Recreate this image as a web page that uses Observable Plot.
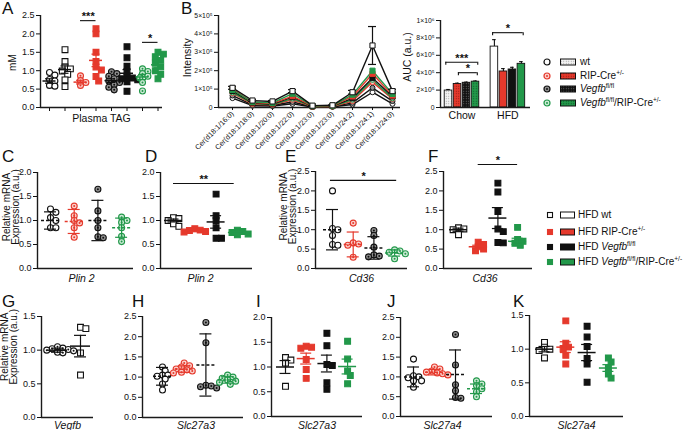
<!DOCTYPE html>
<html><head><meta charset="utf-8">
<script src="https://cdn.jsdelivr.net/npm/d3@7"></script>
<script src="https://cdn.jsdelivr.net/npm/@observablehq/plot@0.6"></script>
<style>
body{margin:0;background:#fff;}
#fig{position:relative;width:685px;height:430px;overflow:hidden;font-family:"Liberation Sans",Arial,sans-serif;color:#111;background:#fff;}
.lt{position:absolute;font-size:17px;line-height:17px;}
.leg{position:absolute;font-size:10px;line-height:12px;white-space:nowrap;}
.leg sup{font-size:6.5px;vertical-align:4px;line-height:0;}
</style></head><body>
<svg width="0" height="0" style="position:absolute"><defs>
<pattern id="pw" width="2.5" height="2.5" patternUnits="userSpaceOnUse"><rect width="2.5" height="2.5" fill="#f4f4f4"/><circle cx="1.25" cy="1.25" r="0.55" fill="#9a9a9a"/></pattern>
<pattern id="pr" width="2.5" height="2.5" patternUnits="userSpaceOnUse"><rect width="2.5" height="2.5" fill="#e5392c"/><circle cx="1.25" cy="1.25" r="0.55" fill="#8a1a12"/></pattern>
<pattern id="pk" width="2.5" height="2.5" patternUnits="userSpaceOnUse"><rect width="2.5" height="2.5" fill="#111"/><circle cx="1.25" cy="1.25" r="0.55" fill="#777"/></pattern>
<pattern id="pg" width="2.5" height="2.5" patternUnits="userSpaceOnUse"><rect width="2.5" height="2.5" fill="#22984a"/><circle cx="1.25" cy="1.25" r="0.55" fill="#0b5224"/></pattern>
</defs></svg>
<div id="fig"></div>
<script>
// ---------------- DATA ----------------
// Panel A: plasma TAG (mM)
const tagGroups = ["Chow wt","HFD wt","Chow RIP-Cre","HFD RIP-Cre","Chow Vegfb","HFD Vegfb","Chow Vegfb/RIP","HFD Vegfb/RIP"];
const tagValues = [
  [0.95, 0.88, 0.76, 0.72, 0.6, 0.58],
  [1.57, 1.25, 1.1, 1.05, 0.99, 0.9, 0.75, 0.57],
  [0.86, 0.73, 0.68, 0.6],
  [2.14, 2.0, 1.5, 1.25, 1.1, 1.02, 0.84, 0.72],
  [0.97, 0.92, 0.85, 0.78, 0.72, 0.68, 0.62, 0.55, 0.48],
  [1.65, 1.35, 1.12, 0.98, 0.85, 0.8, 0.78, 0.75, 0.7, 0.44],
  [1.05, 0.98, 0.92, 0.85, 0.8, 0.68, 0.45],
  [1.5, 1.45, 1.38, 1.28, 1.2, 1.1, 1.0, 0.9, 0.78]
];
const tagMean = [0.72, 1.03, 0.69, 1.28, 0.73, 0.93, 0.83, 1.16];
const tagSem  = [0.06, 0.1, 0.05, 0.17, 0.05, 0.1, 0.07, 0.08];

// Panel B: ceramide intensity (x10^5)
const cerLabels = ["Cer(d18:1/16:0)","Cer(d18:1/18:0)","Cer(d18:1/20:0)","Cer(d18:1/22:0)","Cer(d18:1/23:0)","Cer(d18:1/23:0)","Cer(d18:1/24:2)","Cer(d18:1/24:1)","Cer(d18:1/24:0)"];
const cerChowWt  = [0.51, 0.10, 0.08, 0.20, 0.03, 0.04, 0.16, 0.83, 0.20];
const cerChowVeg = [0.65, 0.14, 0.12, 0.30, 0.04, 0.05, 0.25, 1.07, 0.35];
const cerChowRip = [0.78, 0.18, 0.14, 0.42, 0.05, 0.05, 0.35, 1.38, 0.47];
const cerChowDko = [0.82, 0.22, 0.16, 0.48, 0.05, 0.06, 0.42, 1.50, 0.50];
const cerHfdVeg  = [0.90, 0.25, 0.18, 0.56, 0.06, 0.08, 0.50, 1.60, 0.60];
const cerHfdRip  = [1.00, 0.28, 0.22, 0.62, 0.07, 0.09, 0.60, 1.83, 0.65];
const cerHfdDko  = [0.95, 0.30, 0.25, 0.75, 0.08, 0.10, 0.70, 2.00, 0.74];
const cerHfdWt   = [1.07, 0.38, 0.33, 0.89, 0.10, 0.12, 0.83, 3.37, 0.89];
const cerHfdWtErr= [0.08, 0.05, 0.05, 0.08, 0.02, 0.02, 0.10, 1.03, 0.10];

// Panel B inset: AUC (x10^5)
const aucDiets = ["Chow","HFD"];
const aucChow = [1.95, 2.70, 2.84, 2.97];
const aucChowErr = [0.12, 0.10, 0.08, 0.08];
const aucHfd = [7.0, 4.14, 4.37, 5.02];
const aucHfdErr = [0.8, 0.33, 0.25, 0.25];

// Panels C-F (groups: wt, RIP-Cre, Vegfb, Vegfb/RIP-Cre)
const plin2C = [[1.24,1.17,1.06,1.0,0.85,0.85],[1.3,1.1,1.0,0.95,0.85,0.65],[1.65,1.2,1.0,0.85,0.66,0.64],[1.07,1.0,0.96,0.85,0.67,0.56]];
const plin2CMean = [1.0, 0.98, 1.0, 0.85];
const plin2CSd   = [0.18, 0.25, 0.42, 0.2];
const plin2D = [[1.06,1.04,1.0,0.93,0.88],[0.83,0.8,0.79,0.77,0.76],[1.55,1.1,1.0,0.85,0.63,0.63],[0.8,0.77,0.75,0.72,0.7]];
const plin2DMean = [1.0, 0.79, 0.97, 0.75];
const plin2DSem  = [0.03, 0.02, 0.13, 0.02];
const cd36E = [[2.0,1.03,1.0,0.85,0.62,0.6],[1.17,0.66,0.63,0.6,0.29],[0.98,0.85,0.55,0.35,0.32,0.3],[0.48,0.45,0.42,0.38,0.25]];
const cd36EMean = [1.0, 0.62, 0.53, 0.4];
const cd36ESd   = [0.52, 0.32, 0.29, 0.08];
const cd36F = [[1.05,1.02,1.0,0.87],[0.68,0.62,0.56,0.5,0.46],[2.2,1.97,1.47,1.02,0.95,0.67,0.66],[1.06,0.75,0.7,0.65,0.6]];
const cd36FMean = [1.0, 0.56, 1.3, 0.7];
const cd36FSem  = [0.04, 0.04, 0.27, 0.08];

// Panels G-K
const vegfbG = [[1.05,1.03,1.02,1.01,1.0,0.99,0.97,0.96],[1.34,1.32,0.96,0.63]];
const vegfbGMean = [1.0, 1.06];
const vegfbGErr  = [0.03, 0.16];
const slc3H = [[1.25,1.15,1.05,1.05,1.02,0.95,0.83,0.68],[1.35,1.28,1.25,1.2,1.18,1.15,1.12,1.1],[2.35,1.85,0.8,0.78,0.76,0.73],[1.05,1.0,0.97,0.93,0.9,0.87,0.82]];
const slc3HMean = [1.02, 1.2, 1.3, 0.93];
const slc3HSd   = [0.22, 0.08, 0.77, 0.08];
const slc3I = [[1.19,1.14,1.08,0.61],[1.42,1.4,1.38,1.15,0.95,0.77],[1.68,1.43,1.05,1.03,0.68,0.55],[1.52,1.16,0.92,0.83,0.66]];
const slc3IMean = [1.0, 1.17, 1.07, 1.01];
const slc3ISem  = [0.13, 0.11, 0.17, 0.15];
const slc4J = [[1.45,1.03,1.0,0.98,0.9,0.9,0.74],[1.25,1.2,1.15,1.12,1.1,1.08,1.05],[2.07,1.3,0.8,0.65,0.48,0.46],[0.9,0.82,0.78,0.7,0.62,0.5]];
const slc4JMean = [1.0, 1.12, 1.06, 0.7];
const slc4JSd   = [0.25, 0.07, 0.62, 0.12];
const slc4K = [[1.1,1.03,1.0,0.98,0.87],[1.42,1.09,1.03,1.01,0.91,0.78],[1.34,1.18,1.04,0.86,0.78,0.51],[0.87,0.81,0.72,0.63,0.57]];
const slc4KMean = [1.0, 1.03, 0.95, 0.72];
const slc4KSem  = [0.04, 0.08, 0.12, 0.05];

const ticks25 = [0, 0.5, 1, 1.5, 2, 2.5];
const ticks20 = [0, 0.5, 1, 1.5, 2];
const ticks15 = [0, 0.5, 1, 1.5];

// ---------------- STYLE ----------------
const FONT = "Liberation Sans, Arial, sans-serif";
const RED = "#e5392c", GREEN = "#22984a", BLACK = "#111111";
const STY = {
  wtC:  {symbol:"circle", r:3, fill:"white", stroke:BLACK, line:BLACK},
  ringC:{symbol:"circle", r:3, fill:"white", stroke:BLACK, dot:BLACK, line:BLACK},
  ripC: {symbol:"circle", r:3, fill:"#fbd0cb", stroke:RED, dot:RED, line:RED},
  vegC: {symbol:"circle", r:3, fill:"#8f8f8f", stroke:BLACK, dot:BLACK, line:BLACK},
  dkoC: {symbol:"circle", r:3, fill:"#cdebd6", stroke:GREEN, dot:GREEN, line:GREEN},
  wtS:  {symbol:"square", r:3.3, fill:"white", stroke:BLACK, line:BLACK},
  ripS: {symbol:"square", r:3.3, fill:RED, stroke:RED, line:RED},
  vegS: {symbol:"square", r:3.3, fill:BLACK, stroke:BLACK, line:BLACK},
  dkoS: {symbol:"square", r:3.3, fill:GREEN, stroke:GREEN, line:GREEN}
};
const CIRC = ["wtC","ripC","vegC","dkoC"], SQ = ["wtS","ripS","vegS","dkoS"];
const baseStyle = {fontFamily: FONT, fontSize: "9px", background: "transparent", overflow: "visible", maxWidth: "none", color: "#111"};
const AXC = "#1a1a1a";

const fig = document.getElementById("fig");
function put(node, left, top){ node.style.position = "absolute"; node.style.left = left + "px"; node.style.top = top + "px"; fig.appendChild(node); }
function frame(c){
  return {ml: c.ax - c.left, mr: c.left + c.width - c.xe, mt: c.ytop - c.top, mb: c.top + c.height - c.y0,
          xd: [(c.ax - c.g0) / c.gs, (c.xe - c.g0) / c.gs], ppu: (c.y0 - c.ytop) / c.ymax};
}
// rotated axis title, anchored at the y axis line, vertically at a data-space y
function yTitle(text, xd0, yMid, dx, fontSize){
  return Plot.text([text], {text: d => d, x: () => xd0, y: () => yMid, dx, rotate: -90, textAnchor: "middle", lineAnchor: "middle", fontSize, lineHeight: 0.95});
}
// simple deterministic beeswarm offsets (pixels), overlapping allowed a little
function swarm(vals, ppu, d){
  const idx = vals.map((v,i)=>i).sort((a,b)=>vals[b]-vals[a]);
  const placed = [], out = new Array(vals.length), s = d * 0.42, lim = (d * 0.72) ** 2;
  for (const i of idx){
    const y = vals[i] * ppu; let chosen = 0;
    for (let k = 0; k < 30; k++){
      const cand = k === 0 ? 0 : (k % 2 ? 1 : -1) * Math.ceil(k/2) * s;
      if (placed.every(p => (p.x-cand)**2 + (p.y-y)**2 >= lim)) { chosen = cand; break; }
    }
    placed.push({x: chosen, y}); out[i] = chosen;
  }
  return out;
}

function scatter(c){
  const f = frame(c);
  const marks = [
    Plot.ruleX([f.xd[0]], {stroke: AXC, strokeWidth: 1.4}),
    Plot.ruleY([0], {stroke: AXC, strokeWidth: 1.4})
  ];
  const mh = (c.meanHalf ?? 9) / c.gs, ch = (c.capHalf ?? 5.5) / c.gs;
  c.data.forEach((vals, g) => {
    const st = STY[c.styles[g]];
    const off = swarm(vals, f.ppu, 6.4);
    const pts = vals.map((v,i) => ({x: g + off[i]/c.gs, y: v}));
    marks.push(Plot.dot(pts, {x: "x", y: "y", symbol: st.symbol, r: st.r, fill: st.fill, stroke: st.stroke, strokeWidth: 1.1}));
    if (st.dot) marks.push(Plot.dot(pts, {x: "x", y: "y", r: 1, fill: st.dot}));
  });
  c.data.forEach((vals, g) => {
    const st = STY[c.styles[g]], m = c.mean[g], e = c.err[g];
    marks.push(Plot.ruleY([m], {x1: () => g - mh, x2: () => g + mh, stroke: st.line, strokeWidth: 1.5, strokeDasharray: c.dashed ? "3,2" : undefined}));
    marks.push(Plot.ruleX([g], {y1: () => m - e, y2: () => m + e, stroke: st.line, strokeWidth: 1.2}));
    marks.push(Plot.ruleY([m - e, m + e], {x1: () => g - ch, x2: () => g + ch, stroke: st.line, strokeWidth: 1.2}));
  });
  (c.sig || []).forEach(s => {
    marks.push(Plot.ruleY([s], {y: "y", x1: "a", x2: "b", stroke: "#111", strokeWidth: 1.1}));
    marks.push(Plot.text([s], {x: d => (d.a + d.b)/2, y: "y", text: "label", dy: -4, fontSize: 11, fontWeight: "bold"}));
  });
  if (c.ylabel) marks.push(yTitle(c.ylabel, f.xd[0], c.ylabelY, c.ylabelDx, 10));
  if (c.xlabel) marks.push(Plot.text([c.xlabel], {text: d => d, frameAnchor: "bottom", textAnchor: "middle", lineAnchor: "middle", dx: c.xlabelDx || 0, dy: c.xlabelDy ?? 10, fontSize: 10.5, fontStyle: c.xItalic === false ? "normal" : "italic"}));
  const svg = Plot.plot({
    width: c.width, height: c.height, marginLeft: f.ml, marginRight: f.mr, marginTop: f.mt, marginBottom: f.mb,
    x: c.xticks ? {domain: f.xd, ticks: c.xticks, tickFormat: () => "", tickSize: 4, label: null} : {domain: f.xd, axis: null},
    y: {domain: [0, c.ymax], ticks: c.yticks, tickFormat: d3.format(".1f"), tickSize: 4, tickPadding: 2, label: null},
    style: baseStyle, marks
  });
  put(svg, c.left, c.top);
}

// ---------------- PANEL A ----------------
scatter({left:0, top:0, width:168, height:125, ax:40, xe:162, y0:107, ytop:15, ymax:2.5, g0:49, gs:15.5,
  yticks: ticks25, xticks: d3.range(tagGroups.length),
  styles: ["wtC","wtS","ripC","ripS","vegC","vegS","dkoC","dkoS"],
  data: tagValues, mean: tagMean, err: tagSem, meanHalf: 6.5, capHalf: 4,
  ylabel: "mM", ylabelDx: -28, ylabelY: 1.22, xlabel: "Plasma TAG", xItalic: false, xlabelDy: 11,
  sig: [{a:2, b:3, y:2.36, label:"***"}, {a:6, b:7, y:1.77, label:"*"}]});

// ---------------- PANEL B ----------------
{
  const c = {left:165, top:0, width:240, height:160, ax:218, xe:400, y0:107, ytop:15, ymax:5, g0:232, gs:20};
  const f = frame(c);
  const series = [
    {v: cerChowWt,  st: "wtC"},  {v: cerChowVeg, st: "vegC"}, {v: cerChowRip, st: "ripC"}, {v: cerChowDko, st: "dkoC"},
    {v: cerHfdVeg,  st: "vegS"}, {v: cerHfdRip,  st: "ripS"}, {v: cerHfdDko,  st: "dkoS"}, {v: cerHfdWt, st: "wtS", err: cerHfdWtErr}
  ];
  const marks = [
    Plot.ruleX([f.xd[0]], {stroke: AXC, strokeWidth: 1.4}),
    Plot.ruleY([0], {stroke: AXC, strokeWidth: 1.4}),
    Plot.axisY({ticks: [0,1,2,3,4,5], tickFormat: d => d === 0 ? "0" : `${d}×10⁵`, tickSize: 4, tickPadding: 2, fontSize: 6.8, label: null}),
    Plot.axisX({ticks: d3.range(cerLabels.length), tickFormat: i => cerLabels[i], tickRotate: -45, tickSize: 3, tickPadding: 2, fontSize: 7.3, label: null}),
    yTitle("Intensity", f.xd[0], 2.7, -31, 10.5)
  ];
  for (const s of series){
    const st = STY[s.st];
    marks.push(Plot.line(s.v, {x: (d,i) => i, y: d => d, stroke: st.line, strokeWidth: 1.4}));
  }
  for (const s of series){
    const st = STY[s.st];
    if (s.err){
      const eb = s.v.map((d,i) => ({x: i, lo: d - s.err[i], hi: d + s.err[i]}));
      marks.push(Plot.ruleX(eb, {x: "x", y1: "lo", y2: "hi", stroke: st.line, strokeWidth: 1.2}));
      marks.push(Plot.ruleY(eb, {y: "hi", x1: d => d.x - 0.2, x2: d => d.x + 0.2, stroke: st.line, strokeWidth: 1.2}));
      marks.push(Plot.ruleY(eb, {y: "lo", x1: d => d.x - 0.2, x2: d => d.x + 0.2, stroke: st.line, strokeWidth: 1.2}));
    }
    marks.push(Plot.dot(s.v, {x: (d,i) => i, y: d => d, symbol: st.symbol, r: st.symbol === "square" ? 2.9 : 2.5, fill: st.fill, stroke: st.stroke, strokeWidth: 1}));
  }
  const svg = Plot.plot({width: c.width, height: c.height, marginLeft: f.ml, marginRight: f.mr, marginTop: f.mt, marginBottom: f.mb,
    x: {domain: f.xd}, y: {domain: [0, c.ymax]}, style: baseStyle, marks});
  put(svg, c.left, c.top);
}

// ---------------- PANEL B inset (AUC) ----------------
{
  const c = {left:400, top:0, width:140, height:125, ax:440, xe:530, y0:107, ytop:20, ymax:10, g0:448, gs:9};
  const f = frame(c);
  const hw = 0.42, hfdStart = 5.1;
  const chowFill = ["url(#pw)","url(#pr)","url(#pk)","url(#pg)"], hfdFill = ["white", RED, BLACK, GREEN];
  const bars = [
    ...aucChow.map((v,i) => ({x: i, v, e: aucChowErr[i], fill: chowFill[i]})),
    ...aucHfd.map((v,i) => ({x: hfdStart + i, v, e: aucHfdErr[i], fill: hfdFill[i]}))
  ];
  const sig = [{a: -0.3, b: 3.25, y: 5.2, label: "***"}, {a: 1.1, b: 3.2, y: 4.0, label: "*"}, {a: hfdStart - 0.2, b: hfdStart + 3.2, y: 8.6, label: "*"}];
  const marks = [
    Plot.axisY({ticks: [0,2,4,6,8,10], tickFormat: d => d === 0 ? "0" : d === 10 ? "1×10⁶" : `${d}×10⁵`, tickSize: 4, tickPadding: 2, fontSize: 6.8, label: null}),
    Plot.axisX({ticks: [1.5, hfdStart + 1.5], tickFormat: (d,i) => aucDiets[i], tickSize: 0, tickPadding: 4, fontSize: 10.5, label: null}),
    Plot.ruleY(bars, {y: d => d.v + d.e, x1: d => d.x - 0.2, x2: d => d.x + 0.2, stroke: "#111", strokeWidth: 1.1}),
    Plot.ruleX(bars, {x: "x", y1: "v", y2: d => d.v + d.e, stroke: "#111", strokeWidth: 1.1}),
    ...bars.map(b => Plot.rectY([b], {x1: d => d.x - hw, x2: d => d.x + hw, y: "v", fill: b.fill, stroke: "#111", strokeWidth: 0.9})),
    Plot.ruleX([f.xd[0]], {stroke: AXC, strokeWidth: 1.4}),
    Plot.ruleY([0], {stroke: AXC, strokeWidth: 1.4}),
    Plot.ruleY(sig, {y: "y", x1: "a", x2: "b", stroke: "#111", strokeWidth: 1.1}),
    Plot.ruleX(sig, {x: "a", y1: d => d.y - 0.35, y2: "y", stroke: "#111", strokeWidth: 1.1}),
    Plot.ruleX(sig, {x: "b", y1: d => d.y - 0.35, y2: "y", stroke: "#111", strokeWidth: 1.1}),
    Plot.text(sig, {x: d => (d.a + d.b)/2, y: "y", text: "label", dy: -4, fontSize: 11, fontWeight: "bold"}),
    yTitle("AUC (a.u.)", f.xd[0], 5.8, -33, 10.5)
  ];
  const svg = Plot.plot({width: c.width, height: c.height, marginLeft: f.ml, marginRight: f.mr, marginTop: f.mt, marginBottom: f.mb,
    x: {domain: f.xd}, y: {domain: [0, c.ymax]}, style: baseStyle, marks});
  put(svg, c.left, c.top);
}

// ---------------- ROW 2 ----------------
const YL = "Relative mRNA\nExpression (a.u.)";
scatter({left:0, top:150, width:140, height:132, ax:37, xe:133, y0:268, ytop:172, ymax:2, g0:50, gs:23.7,
  yticks: ticks20, styles: CIRC, data: plin2C, mean: plin2CMean, err: plin2CSd, dashed: true, capHalf: 6,
  ylabel: YL, ylabelDx: -26, ylabelY: 1.28, xlabel: "Plin 2", xlabelDx: -4});
scatter({left:134, top:150, width:121, height:132, ax:160, xe:252, y0:268, ytop:172, ymax:2, g0:173, gs:21.3,
  yticks: ticks20, styles: SQ, data: plin2D, mean: plin2DMean, err: plin2DSem,
  xlabel: "Plin 2", xlabelDx: -6, sig: [{a:0, b:2.85, y:1.77, label:"**"}]});
scatter({left:255, top:150, width:155, height:132, ax:315, xe:407, y0:268, ytop:171, ymax:2.5, g0:332, gs:20.7,
  yticks: ticks25, styles: CIRC, data: cd36E, mean: cd36EMean, err: cd36ESd, dashed: true, capHalf: 6,
  ylabel: YL, ylabelDx: -27, ylabelY: 1.6, xlabel: "Cd36", sig: [{a:-0.1, b:3.1, y:2.27, label:"*"}]});
scatter({left:415, top:150, width:120, height:132, ax:443, xe:532, y0:268, ytop:171, ymax:2.5, g0:458, gs:19.7,
  yticks: ticks25, styles: SQ, data: cd36F, mean: cd36FMean, err: cd36FSem,
  xlabel: "Cd36", xlabelDx: -3, sig: [{a:1, b:3, y:2.68, label:"*"}]});

// ---------------- ROW 3 ----------------
scatter({left:0, top:290, width:98, height:142, ax:41, xe:93, y0:417, ytop:316, ymax:1.5, g0:57, gs:23,
  yticks: ticks15, styles: ["ringC","wtS"], data: vegfbG, mean: vegfbGMean, err: vegfbGErr, meanHalf: 10, capHalf: 6,
  ylabel: YL, ylabelDx: -32, ylabelY: 1.05, xlabel: "Vegfb", xlabelDy: 8});
scatter({left:115, top:290, width:132, height:142, ax:142, xe:243, y0:417, ytop:316, ymax:2.5, g0:162, gs:21.7,
  yticks: ticks25, styles: CIRC, data: slc3H, mean: slc3HMean, err: slc3HSd, dashed: true, capHalf: 6,
  xlabel: "Slc27a3", xlabelDx: 3, xlabelDy: 8});
scatter({left:245, top:290, width:120, height:142, ax:271, xe:362, y0:416, ytop:317, ymax:2, g0:285, gs:20.7,
  yticks: ticks20, styles: SQ, data: slc3I, mean: slc3IMean, err: slc3ISem,
  xlabel: "Slc27a3", xlabelDy: 9});
scatter({left:373, top:290, width:122, height:142, ax:400, xe:492, y0:416, ytop:317, ymax:2.5, g0:413, gs:21,
  yticks: ticks25, styles: CIRC, data: slc4J, mean: slc4JMean, err: slc4JSd, dashed: true, capHalf: 6,
  xlabel: "Slc27a4", xlabelDx: -4, xlabelDy: 9});
scatter({left:502, top:290, width:126, height:142, ax:529, xe:623, y0:416, ytop:315, ymax:1.5, g0:544, gs:21.3,
  yticks: ticks15, styles: SQ, data: slc4K, mean: slc4KMean, err: slc4KSem,
  xlabel: "Slc27a4", xlabelDy: 9});

// ---------------- Panel letters ----------------
[["A",2,0],["B",181,0],["C",2,148],["D",145,148],["E",285,148],["F",428,148],["G",2,293],["H",132,293],["I",256,293],["J",387,293],["K",513,293]]
  .forEach(([t,x,y]) => { const d = document.createElement("div"); d.className = "lt"; d.textContent = t; put(d, x, y); });

// ---------------- Legends ----------------
function legend(left, top, rows, markerFn, swFn){
  const ns = "http://www.w3.org/2000/svg";
  const s = document.createElementNS(ns, "svg");
  s.setAttribute("width", 40); s.setAttribute("height", 70);
  rows.forEach((r, i) => { s.innerHTML += markerFn(r, i) + swFn(r, i); });
  put(s, left, top);
  rows.forEach(r => { const d = document.createElement("div"); d.className = "leg"; d.innerHTML = r.html; put(d, r.tx, top + r.cy - 6); });
}
const gen = ["wt", "RIP-Cre<sup>+/-</sup>", "<i>Vegfb</i><sup>fl/fl</sup>", "<i>Vegfb</i><sup>fl/fl</sup>/RIP-Cre<sup>+/-</sup>"];
legend(540, 55, [
  {cy:7, st:"wtC", sw:"url(#pw)", html: gen[0], tx:580},
  {cy:21, st:"ripC", sw:"url(#pr)", html: gen[1], tx:580},
  {cy:34, st:"vegC", sw:"url(#pk)", html: gen[2], tx:580},
  {cy:48, st:"dkoC", sw:"url(#pg)", html: gen[3], tx:580}
], r => { const st = STY[r.st]; return `<circle cx="7" cy="${r.cy}" r="3" fill="${st.fill}" stroke="${st.stroke}" stroke-width="1.2"/>` + (st.dot ? `<circle cx="7" cy="${r.cy}" r="1" fill="${st.dot}"/>` : ""); },
   r => `<rect x="20.5" y="${r.cy-3}" width="15" height="6" fill="${r.sw}" stroke="#111" stroke-width="1"/>`);
legend(540, 205, [
  {cy:10, st:"wtS", sw:"white", html: "HFD " + gen[0], tx:578},
  {cy:27, st:"ripS", sw:RED, html: "HFD " + gen[1], tx:578},
  {cy:42, st:"vegS", sw:BLACK, html: "HFD " + gen[2], tx:578},
  {cy:57, st:"dkoS", sw:GREEN, html: "HFD " + gen[3], tx:578}
], r => { const st = STY[r.st]; return `<rect x="7.5" y="${r.cy-2.5}" width="5" height="5" fill="${st.fill}" stroke="${st.stroke}" stroke-width="1.1"/>`; },
   r => `<rect x="20.5" y="${r.cy-3}" width="14" height="6" fill="${r.sw}" stroke="#111" stroke-width="1"/>`);
</script>
</body></html>
